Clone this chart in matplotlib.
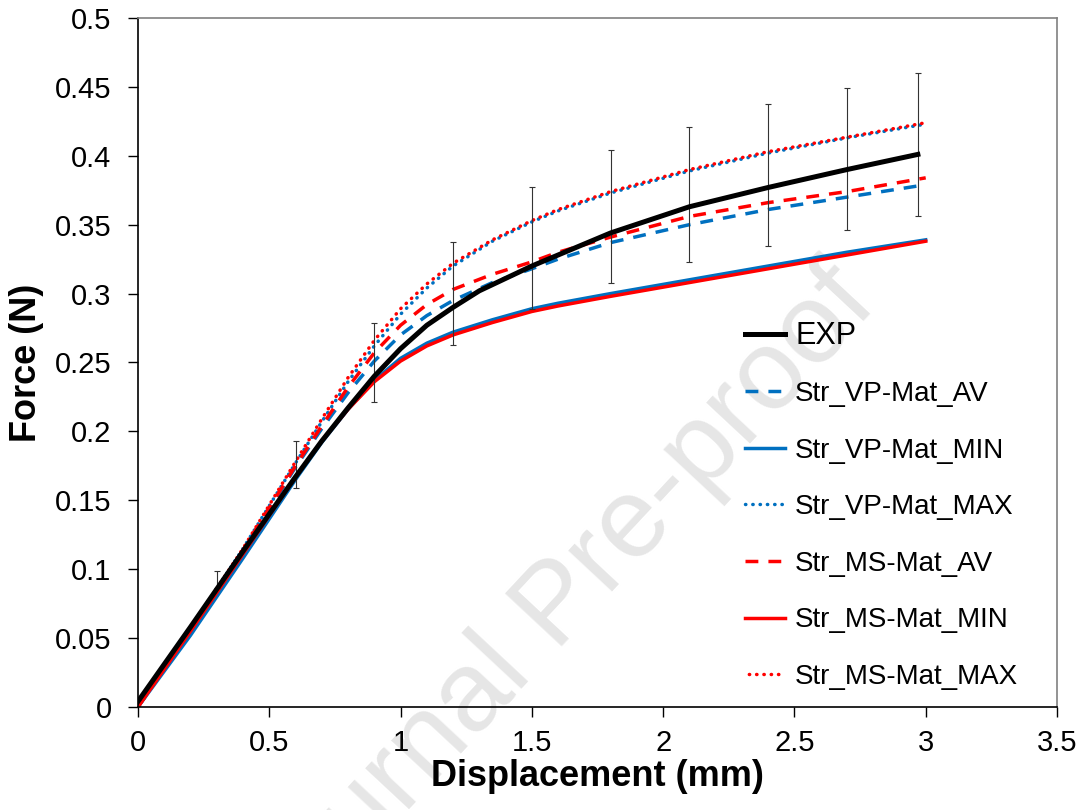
import matplotlib.pyplot as plt

plt.rcParams['font.family'] = ['Liberation Sans', 'DejaVu Sans']

# experimental mean curve
exp_x = [0, 0.2, 0.4, 0.6, 0.7, 0.8, 0.9, 1.0, 1.1, 1.2, 1.3, 1.4,
         1.5, 1.6, 1.8, 2.1, 2.4, 2.7, 2.97]
exp_y = [0.004, 0.058, 0.113, 0.167, 0.193, 0.217, 0.240, 0.260,
         0.277, 0.290, 0.302, 0.311, 0.320, 0.328, 0.344, 0.363, 0.377,
         0.390, 0.401]

# error bars on the experiment
err_x = [0.3, 0.6, 0.9, 1.2, 1.5, 1.8, 2.1, 2.4, 2.7, 2.97]
err_mean = [0.0925, 0.176, 0.250, 0.300, 0.333, 0.356, 0.372, 0.386, 0.3975, 0.408]
err_half = [0.006, 0.017, 0.029, 0.0375, 0.044, 0.048, 0.049, 0.0515, 0.0515, 0.052]

# simulations
sim_x = [0, 0.2, 0.4, 0.6, 0.7, 0.8, 0.9, 1.0, 1.1, 1.2, 1.35,
         1.5, 1.6, 1.8, 2.1, 2.4, 2.7, 3.0]
vp_av = [0, 0.055, 0.113, 0.174, 0.202, 0.228, 0.251, 0.270,
         0.284, 0.295, 0.308, 0.318, 0.325, 0.337, 0.350, 0.361, 0.370, 0.379]
vp_min = [0, 0.052, 0.108, 0.165, 0.192, 0.216, 0.237, 0.253,
          0.264, 0.272, 0.281, 0.289, 0.293, 0.300, 0.310, 0.320, 0.330, 0.339]
vp_max = [0, 0.057, 0.115, 0.177, 0.207, 0.236, 0.262, 0.285,
          0.304, 0.320, 0.338, 0.352, 0.360, 0.373, 0.389, 0.402, 0.413, 0.423]
ms_av = [0, 0.056, 0.114, 0.175, 0.204, 0.232, 0.257, 0.277,
         0.292, 0.303, 0.314, 0.323, 0.330, 0.341, 0.356, 0.366, 0.374, 0.384]
ms_min = [0, 0.055, 0.111, 0.167, 0.193, 0.216, 0.236, 0.251,
          0.262, 0.270, 0.279, 0.287, 0.291, 0.298, 0.308, 0.318, 0.328, 0.338]
ms_max = [0, 0.057, 0.115, 0.178, 0.209, 0.239, 0.266, 0.289,
          0.307, 0.322, 0.339, 0.353, 0.361, 0.374, 0.390, 0.403, 0.4135, 0.424]

labels = ['EXP', 'Str_VP-Mat_AV', 'Str_VP-Mat_MIN', 'Str_VP-Mat_MAX',
          'Str_MS-Mat_AV', 'Str_MS-Mat_MIN', 'Str_MS-Mat_MAX']

blue = '#0070C0'
red = '#FF0000'

fig = plt.figure(figsize=(10.83, 8.1), dpi=100)
ax = fig.add_axes([0.1274, 0.1272, 0.8486, 0.8506])
ax.patch.set_alpha(0)

# watermark behind everything
fig.text(0.515, 0.25, 'Journal Pre-proof', rotation=47, fontsize=82,
         color='#e6e6e6', ha='center', va='center', zorder=-5)

lw = 2.5
dash = (0, (3.7, 2.9))
dots = (0, (0.1, 2.0))
h_vp_av, = ax.plot(sim_x, vp_av, color=blue, lw=lw, ls=dash, dash_capstyle='butt')
h_vp_min, = ax.plot(sim_x, vp_min, color=blue, lw=lw)
h_vp_max, = ax.plot(sim_x, vp_max, color=blue, lw=lw, ls=dots, dash_capstyle='round')
h_ms_av, = ax.plot(sim_x, ms_av, color=red, lw=lw, ls=dash, dash_capstyle='butt')
h_ms_min, = ax.plot(sim_x, ms_min, color=red, lw=lw)
h_ms_max, = ax.plot(sim_x, ms_max, color=red, lw=lw, ls=(1.0, (0.1, 2.0)), dash_capstyle='round')

ax.errorbar(err_x, err_mean, yerr=err_half, fmt='none', ecolor='#333333',
            elinewidth=0.8, capsize=2.5, capthick=0.8, zorder=4)
h_exp, = ax.plot(exp_x, exp_y, color='black', lw=3.6, zorder=5)

ax.set_xlim(0, 3.5)
ax.set_ylim(0, 0.5)
ax.set_xticks([0, 0.5, 1, 1.5, 2, 2.5, 3, 3.5])
ax.set_xticklabels(['0', '0.5', '1', '1.5', '2', '2.5', '3', '3.5'])
ax.set_yticks([i * 0.05 for i in range(11)])
ax.set_yticklabels(['0', '0.05', '0.1', '0.15', '0.2', '0.25', '0.3', '0.35',
                    '0.4', '0.45', '0.5'])
ax.tick_params(labelsize=21, length=7, width=1, direction='out', pad=12)
ax.tick_params(axis='x', pad=9)

for s in ['top', 'right']:
    ax.spines[s].set_color('#808080')
    ax.spines[s].set_linewidth(1.2)
for s in ['left', 'bottom']:
    ax.spines[s].set_linewidth(1.2)
ax.tick_params(top=False, right=False)

ax.set_xlabel('Displacement (mm)', fontsize=26, fontweight='bold', labelpad=1)
ax.set_ylabel('Force (N)', fontsize=26, fontweight='bold', labelpad=8)

leg = ax.legend([h_exp, h_vp_av, h_vp_min, h_vp_max, h_ms_av, h_ms_min, h_ms_max],
                labels, loc='upper left', bbox_to_anchor=(0.6485, 0.577),
                frameon=False, fontsize=20, handlelength=1.45,
                handletextpad=0.35, labelspacing=1.1, borderaxespad=0)
leg.get_texts()[0].set_fontsize(22)

fig.savefig('out.png', dpi=100)
